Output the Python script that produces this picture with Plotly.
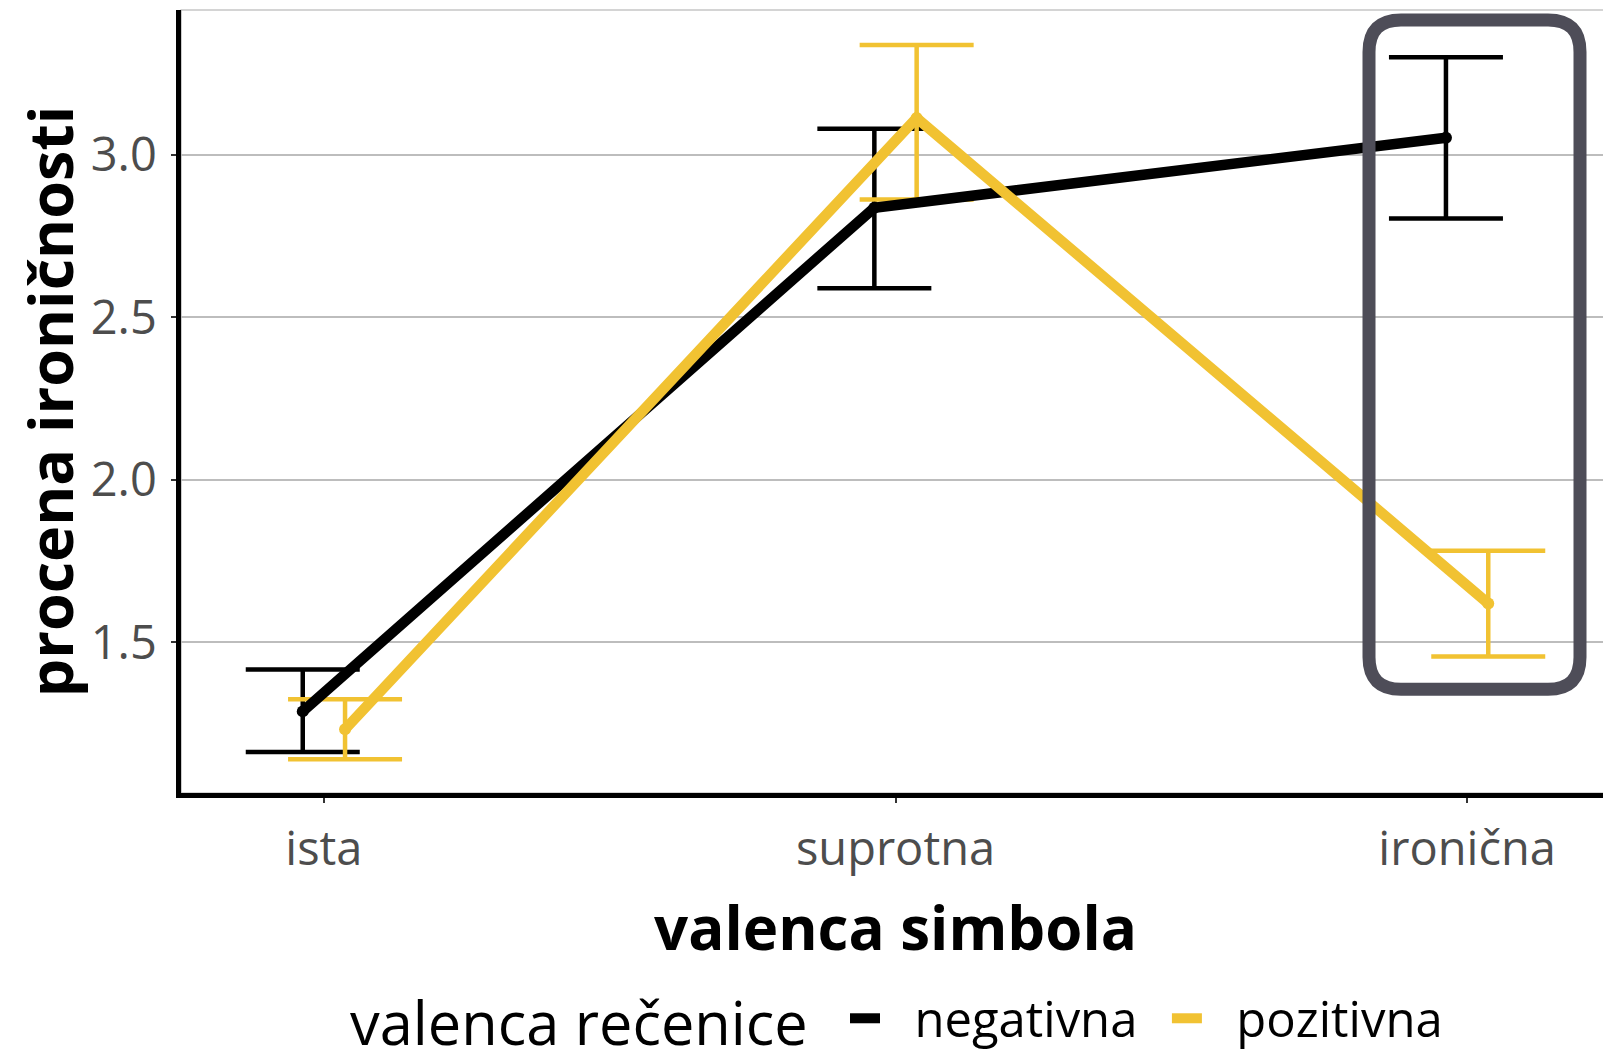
import plotly.graph_objects as go

categories = ["ista", "suprotna", "ironična"]
cat_pos = [1, 2, 3]
series_names = ["negativna", "pozitivna"]
neg_mean = [1.288, 2.837, 3.052]
neg_upper = [1.417, 3.080, 3.300]
neg_lower = [1.163, 2.589, 2.804]
pos_mean = [1.233, 3.113, 1.620]
pos_upper = [1.325, 3.337, 1.782]
pos_lower = [1.141, 2.862, 1.457]
y_ticks = [1.5, 2.0, 2.5, 3.0]
y_ticklabels = ["1.5", "2.0", "2.5", "3.0"]

BLACK = "#000000"
YELLOW = "#F1C232"
FONT = "Open Sans"
dodge = 0.037

OFF = 8  # default page body margin
W, H = 1611, 1051
ML, MR, MT, MB = 173, 9, 2, 264
XR = [0.75, 3.25]
YR = [1.037, 3.445]

series = [
    (series_names[0], neg_mean, neg_upper, neg_lower, BLACK, -dodge),
    (series_names[1], pos_mean, pos_upper, pos_lower, YELLOW, dodge),
]

fig = go.Figure()

# error bars first
for name, m, u, l, col, off in series:
    xs = [p + off for p in cat_pos]
    fig.add_trace(go.Scatter(
        x=xs, y=m, mode="markers",
        marker=dict(size=1, color=col, opacity=0),
        error_y=dict(type="data", symmetric=False,
                     array=[a - b for a, b in zip(u, m)],
                     arrayminus=[b - a for a, b in zip(l, m)],
                     color=col, thickness=4.5, width=57),
        showlegend=False, hoverinfo="skip"))

# lines
for name, m, u, l, col, off in series:
    xs = [p + off for p in cat_pos]
    fig.add_trace(go.Scatter(
        x=xs, y=m, mode="lines", name="\u2002\u200a" + name + "\u2002",
        line=dict(color=col, width=10.5)))
# points
for name, m, u, l, col, off in series:
    xs = [p + off for p in cat_pos]
    fig.add_trace(go.Scatter(
        x=xs, y=m, mode="markers", showlegend=False,
        marker=dict(color=col, size=12)))

# rounded rectangle highlight around "ironična"
pw = W - ML - MR
ph = H - MT - MB
def px2x(px):
    return XR[0] + (px - OFF - ML) / pw * (XR[1] - XR[0])
def py2y(py):
    return YR[1] - (py - OFF - MT) / ph * (YR[1] - YR[0])

x0, x1 = px2x(1369), px2x(1580)
y0, y1 = py2y(691), py2y(20)
rx = 32 / pw * (XR[1] - XR[0])
ry = 32 / ph * (YR[1] - YR[0])
path = (f"M {x0+rx},{y1} L {x1-rx},{y1} Q {x1},{y1} {x1},{y1-ry} "
        f"L {x1},{y0+ry} Q {x1},{y0} {x1-rx},{y0} "
        f"L {x0+rx},{y0} Q {x0},{y0} {x0},{y0+ry} "
        f"L {x0},{y1-ry} Q {x0},{y1} {x0+rx},{y1} Z")
fig.add_shape(type="path", path=path, xref="x", yref="y",
              line=dict(color="#4E4D58", width=13), fillcolor="rgba(0,0,0,0)")

# panel border (thin grey top/right)
fig.add_shape(type="rect", xref="paper", yref="paper", x0=0, x1=1, y0=0, y1=1,
              line=dict(color="#AAAAAA", width=1.2), layer="below")

# legend title as annotation
fig.add_annotation(
    text="valenca rečenice", xref="paper", yref="paper",
    x=(579 - OFF - ML) / pw, y=(MT + ph - (1024 - OFF)) / ph,
    xanchor="center", yanchor="middle", showarrow=False,
    font=dict(size=59.5, family=FONT, color="#000000"))

fig.update_layout(
    width=W, height=H,
    margin=dict(l=ML, r=MR, t=MT, b=MB),
    plot_bgcolor="white", paper_bgcolor="white",
    font=dict(family=FONT, color="#000000"),
    showlegend=True,
    legend=dict(
        orientation="h", x=(845 - OFF - ML) / pw, xanchor="left",
        y=(MT + ph - (1021 - OFF)) / ph, yanchor="middle",
        font=dict(size=49, family=FONT, color="#000000"),
        itemwidth=30, tracegroupgap=0, bgcolor="rgba(0,0,0,0)",
    ),
)

fig.update_xaxes(
    range=XR, tickmode="array", tickvals=cat_pos, ticktext=categories,
    showgrid=False, zeroline=False,
    showline=True, linecolor="#000000", linewidth=4.5,
    ticks="outside", ticklen=5, tickwidth=1.5, tickcolor="#333333",
    tickfont=dict(size=47, family=FONT, color="#4D4D4D"),
    ticklabelstandoff=6,
    title=dict(text="<b>valenca simbola</b>", font=dict(size=60, family=FONT, color="#000000"), standoff=31),
    automargin=False,
)
fig.update_yaxes(
    range=YR, tickmode="array", tickvals=y_ticks, ticktext=y_ticklabels,
    showgrid=True, gridcolor="#BDBDBD", gridwidth=1.5, zeroline=False,
    showline=True, linecolor="#000000", linewidth=4.5,
    ticks="outside", ticklen=5, tickwidth=1.5, tickcolor="#333333",
    tickfont=dict(size=47, family=FONT, color="#4D4D4D"),
    ticklabelstandoff=5,
    title=dict(text="<b>procena ironičnosti</b>", font=dict(size=61, family=FONT, color="#000000"), standoff=38),
    automargin=False,
)

fig.write_html("out.html")
